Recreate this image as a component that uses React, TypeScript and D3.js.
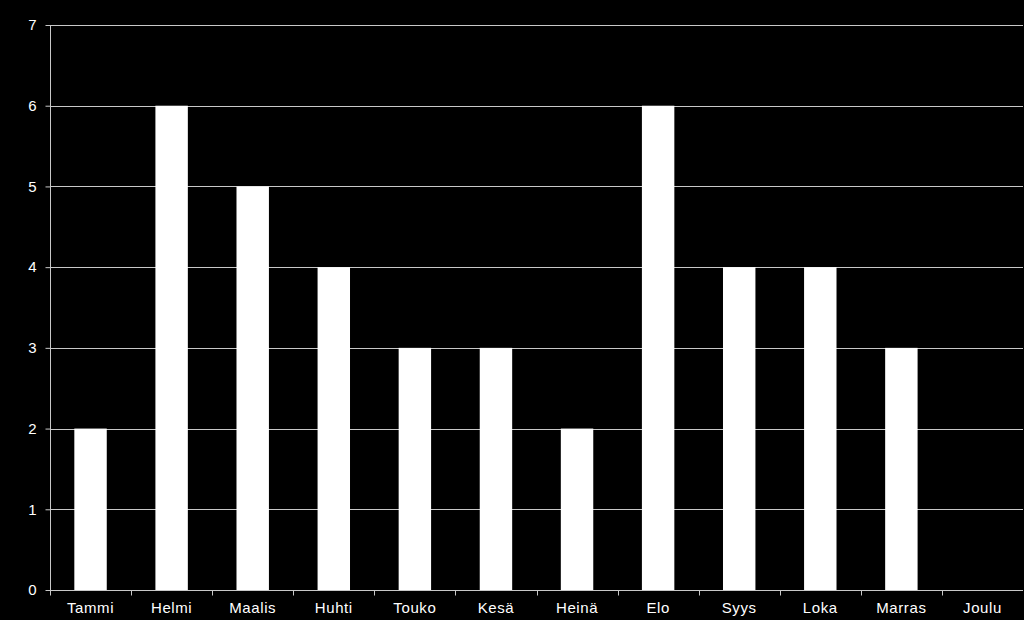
import { useEffect, useRef } from "react";
import * as d3 from "d3";

const months = ["Tammi", "Helmi", "Maalis", "Huhti", "Touko", "Kesä", "Heinä", "Elo", "Syys", "Loka", "Marras", "Joulu"];
const counts = [2, 6, 5, 4, 3, 3, 2, 6, 4, 4, 3, 0];
const yTicks = [0, 1, 2, 3, 4, 5, 6, 7];

export default function App() {
    const svgRef = useRef<SVGSVGElement>(null);

    useEffect(() => {
        const width = 1024,
            height = 620;
        const margin = { top: 25, right: 1, bottom: 30, left: 50 };
        const innerW = width - margin.left - margin.right;
        const innerH = height - margin.top - margin.bottom;

        const svg = d3.select(svgRef.current);
        svg.selectAll("*").remove();

        svg.append("rect").attr("width", width).attr("height", height).attr("fill", "#000");

        const g = svg.append("g").attr("transform", `translate(${margin.left},${margin.top})`);

        const x = d3.scaleBand().domain(months).range([0, innerW]).paddingInner(0).paddingOuter(0);
        const y = d3.scaleLinear().domain([0, 7]).range([innerH, 0]);
        const barW = x.bandwidth() * 0.4;

        // gridlines
        g.append("g")
            .selectAll("line")
            .data(yTicks.slice(1))
            .enter()
            .append("line")
            .attr("x1", 0)
            .attr("x2", innerW)
            .attr("y1", (d) => Math.round(y(d)) + 0.5)
            .attr("y2", (d) => Math.round(y(d)) + 0.5)
            .attr("stroke", "#c8c8c8")
            .attr("stroke-width", 1);

        // bars
        g.append("g")
            .selectAll("rect")
            .data(counts)
            .enter()
            .append("rect")
            .attr("x", (d, i) => (x(months[i]) || 0) + (x.bandwidth() - barW) / 2)
            .attr("y", (d) => y(d))
            .attr("width", barW)
            .attr("height", (d) => innerH - y(d))
            .attr("fill", "#fff");

        // y axis
        const yAxis = g
            .append("g")
            .attr("transform", "translate(0.5,0)")
            .call(d3.axisLeft(y).tickValues(yTicks).tickSize(5).tickPadding(9).tickFormat(d3.format("d")));
        yAxis.select(".domain").attr("stroke", "#c8c8c8").attr("d", `M0,${innerH}V0`);
        yAxis.selectAll(".tick line").attr("stroke", "#c8c8c8");
        yAxis
            .selectAll(".tick text")
            .attr("fill", "#fff")
            .style("font-family", "'Liberation Sans', Arial, sans-serif")
            .style("font-size", "15px");

        // x axis
        const xAxis = g
            .append("g")
            .attr("transform", `translate(0,${Math.round(innerH) + 0.5})`)
            .call(d3.axisBottom(x).tickSize(0).tickPadding(12));
        xAxis.select(".domain").attr("stroke", "#c8c8c8").attr("d", `M0,0H${innerW}`);
        xAxis
            .selectAll(".tick text")
            .attr("fill", "#fff")
            .style("font-family", "'Liberation Sans', Arial, sans-serif")
            .style("font-size", "15px")
            .style("letter-spacing", "0.6px");

        // category boundary ticks
        xAxis
            .append("g")
            .selectAll("line")
            .data(months)
            .enter()
            .append("line")
            .attr("x1", (d) => Math.round(x(d) || 0) + 0.5)
            .attr("x2", (d) => Math.round(x(d) || 0) + 0.5)
            .attr("y1", 0)
            .attr("y2", 5)
            .attr("stroke", "#c8c8c8");
    }, []);

    return (
        <svg
            ref={svgRef}
            width={1024}
            height={620}
            style={{ position: "absolute", left: 0, top: 0, display: "block" }}
        />
    );
}
